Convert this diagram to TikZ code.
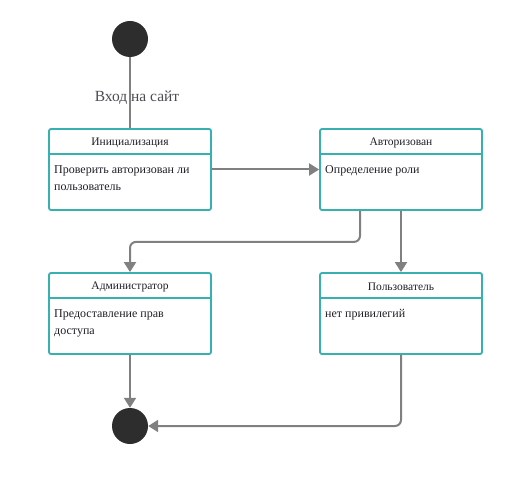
\documentclass[tikz,border=0pt]{standalone}
\usepackage{fontspec}
\setmainfont{Liberation Serif}
\usetikzlibrary{arrows.meta,calc}
\definecolor{boxc}{RGB}{56,176,176}
\definecolor{linec}{RGB}{128,128,128}
\definecolor{dotc}{RGB}{45,45,45}
\definecolor{txtc}{RGB}{30,30,40}
\tikzset{
  x=1pt,y=-1pt,
  state/.style={draw=boxc,line width=1.8pt,rounded corners=2pt,minimum width=162pt,minimum height=81pt,inner sep=0pt},
  hdr/.style={font=\fontsize{11.5}{13}\selectfont,text=txtc,inner sep=0pt},
  bodytxt/.style={font=\fontsize{12}{17}\selectfont,text=txtc,inner sep=0pt,align=left,anchor=north west},
  dot/.style={circle,fill=dotc,minimum size=36pt,inner sep=0pt},
  conn/.style={draw=linec,line width=2pt,rounded corners=6pt},
  arr/.style={conn,-{Triangle[length=10pt,width=12pt]}}
}
\begin{document}
\begin{tikzpicture}
\useasboundingbox (0,0) rectangle (522,489);
\node[dot] (start) at (130,39) {};
\node[dot] (end) at (130,426) {};
\node[state] (init) at (130,169.5) {};
\node[state] (auth) at (401,169.5) {};
\node[state] (admin) at (130,313.5) {};
\node[state] (user) at (401,313.5) {};
\foreach \n/\t in {init/Инициализация,auth/Авторизован,admin/Администратор,user/Пользователь}{
  \draw[draw=boxc,line width=1.8pt] ([yshift=-26pt]\n.north west) -- ([yshift=-26pt]\n.north east);
  \node[hdr] (\n-h) at ([yshift=-15pt]\n.north) {\t};
}
\node[bodytxt] (init-b) at (54,165) {Проверить авторизован ли\\пользователь};
\node[bodytxt] (auth-b) at (325,165) {Определение роли};
\node[bodytxt] (admin-b) at (54,309) {Предоставление прав\\доступа};
\node[bodytxt] (user-b) at (325,309) {нет привилегий};
\draw[conn] (start) -- (init);
\node[font=\fontsize{15.5}{17}\selectfont,text=txtc!80!white,inner sep=0pt] (lbl) at (137,98) {Вход на сайт};
\draw[arr] (init.east) -- (auth.east -| auth.west);
\draw[arr] ([xshift=-41pt]auth.south) -- ++(0,31) -| (admin.north);
\draw[arr] (auth.south) -- (user.north);
\draw[arr] (admin.south) -- (end.north);
\draw[arr] (user.south) |- (end.east);
\end{tikzpicture}
\end{document}
